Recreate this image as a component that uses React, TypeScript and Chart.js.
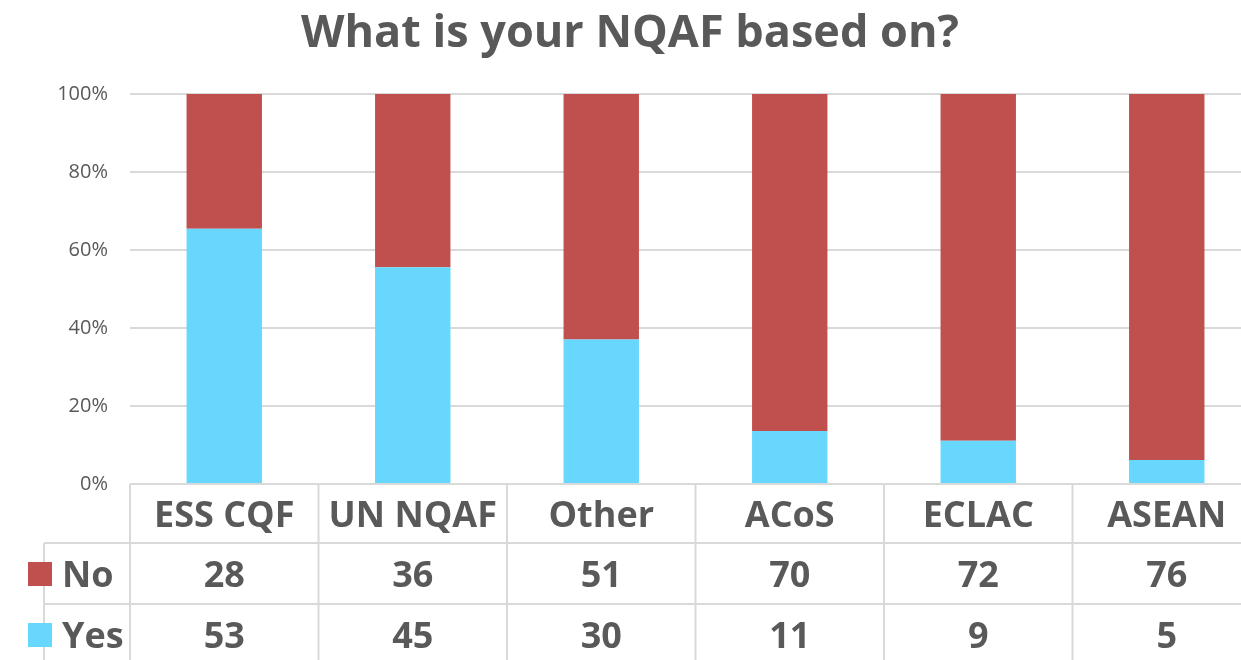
import React, { useEffect, useRef } from "react";
import { Chart, registerables } from "chart.js";

Chart.register(...registerables);

const categories = ["ESS CQF", "UN NQAF", "Other", "ACoS", "ECLAC", "ASEAN"];
const noValues = [28, 36, 51, 70, 72, 76];
const yesValues = [53, 45, 30, 11, 9, 5];
const yTicks = ["0%", "20%", "40%", "60%", "80%", "100%"];
const titleText = "What is your NQAF based on?";

const RED = "#C0504D";
const CYAN = "#67D7FE";
const TEXT = "#595959";
const GRID = "#D9D9D9";
const FONT = "'Open Sans', 'DejaVu Sans', sans-serif";

const pct = (a: number[], b: number[]) => a.map((v, i) => (v / (a[i] + b[i])) * 100);

const tablePlugin = {
  id: "tablePlugin",
  afterDraw(chart: any) {
    const ctx = chart.ctx;
    const x = chart.scales.x;
    const area = chart.chartArea;
    const n = categories.length;
    const step = (area.right - area.left) / n;
    const top = area.bottom;
    const r1 = top + 59;
    const r2 = r1 + 61;
    const bottom = chart.height + 5;
    const leftEdge = 44;
    ctx.save();
    // title
    ctx.fillStyle = TEXT;
    ctx.font = `bold 45px ${FONT}`;
    ctx.textAlign = "center";
    ctx.textBaseline = "alphabetic";
    ctx.fillText(titleText, 630, 47);

    // grid lines
    ctx.strokeStyle = GRID;
    ctx.lineWidth = 2;
    ctx.beginPath();
    ctx.moveTo(area.left, top);
    ctx.lineTo(chart.width, top);
    ctx.moveTo(leftEdge, r1);
    ctx.lineTo(chart.width, r1);
    ctx.moveTo(leftEdge, r2);
    ctx.lineTo(chart.width, r2);
    ctx.moveTo(leftEdge, r1);
    ctx.lineTo(leftEdge, bottom);
    for (let i = 0; i <= n; i++) {
      const px = area.left + step * i;
      ctx.moveTo(px, top);
      ctx.lineTo(px, bottom);
    }
    ctx.stroke();

    ctx.font = `bold 36px ${FONT}`;
    ctx.fillStyle = TEXT;
    ctx.textAlign = "center";
    ctx.textBaseline = "alphabetic";
    for (let i = 0; i < n; i++) {
      const cx = x.getPixelForValue(i);
      ctx.fillText(categories[i], cx, 527);
      ctx.fillText(String(noValues[i]), cx, 587);
      ctx.fillText(String(yesValues[i]), cx, 648);
    }
    // legend keys
    ctx.fillStyle = RED;
    ctx.fillRect(28, 562, 24, 24);
    ctx.fillStyle = CYAN;
    ctx.fillRect(28, 623, 24, 24);
    ctx.fillStyle = TEXT;
    ctx.textAlign = "left";
    ctx.fillText("No", 62, 587);
    ctx.fillText("Yes", 62, 648);
    ctx.restore();
  },
};

export default function App() {
  const ref = useRef<HTMLCanvasElement>(null);
  useEffect(() => {
    if (!ref.current) return;
    const chart = new Chart(ref.current, {
      type: "bar",
      data: {
        labels: categories,
        datasets: [
          { label: "Yes", data: pct(yesValues, noValues), backgroundColor: CYAN, barPercentage: 0.8, categoryPercentage: 0.5 },
          { label: "No", data: pct(noValues, yesValues), backgroundColor: RED, barPercentage: 0.8, categoryPercentage: 0.5 },
        ],
      },
      options: {
        responsive: false,
        animation: false,
        layout: { padding: { top: 94, bottom: 176, left: 0, right: 9 } },
        plugins: { legend: { display: false }, tooltip: { enabled: false }, title: { display: false } },
        scales: {
          x: { stacked: true, display: false },
          y: {
            stacked: true,
            min: 0,
            max: 100,
            afterFit: (s: any) => { s.width = 130; },
            border: { display: false },
            grid: { color: GRID, lineWidth: 2, drawTicks: false },
            ticks: {
              stepSize: 20,
              padding: 22,
              color: TEXT,
              font: { family: FONT, size: 20 },
              callback: (v: any) => yTicks[Math.round(Number(v) / 20)],
            },
          },
        },
      },
      plugins: [tablePlugin],
    });
    return () => chart.destroy();
  }, []);
  return (
    <div style={{ position: "fixed", left: 0, top: 0, width: 1241, height: 660, overflow: "hidden", background: "#fff" }}>
      <canvas ref={ref} width={1270} height={660} style={{ display: "block" }} />
    </div>
  );
}
